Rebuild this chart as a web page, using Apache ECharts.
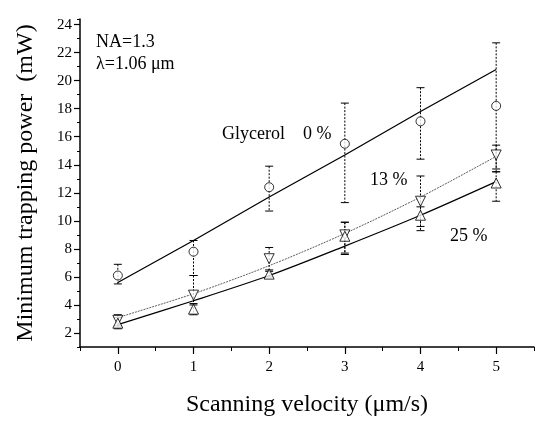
<!DOCTYPE html>
<html>
<head>
<meta charset="utf-8">
<script src="https://cdn.jsdelivr.net/npm/echarts@6/dist/echarts.min.js"></script>
<style>
  html, body { margin: 0; padding: 0; background: #fff; }
  #chart { width: 535px; height: 422px; }
</style>
</head>
<body>
<div id="chart"></div>
<script>
// scanning velocity (µm/s)
const velocity = [0, 1, 2, 3, 4, 5];

// Glycerol 0 %
const g0 = [6.1, 7.8, 12.4, 15.5, 17.1, 18.2];
const g0Low = [5.5, 6.1, 10.7, 11.3, 14.4, 13.7];
const g0High = [6.9, 8.6, 13.9, 18.4, 19.5, 22.7];
const fit0 = [5.6, 8.6, 11.7, 14.7, 17.8, 20.8];

// 13 %
const g13 = [2.9, 4.7, 7.3, 9.0, 11.4, 14.7];
const g13Low = [2.5, 4.0, 6.5, 7.7, 9.6, 13.5];
const g13High = [3.3, 6.1, 8.1, 9.9, 13.2, 15.4];
const fit13 = [3.1, 4.8, 6.8, 9.1, 11.7, 14.6];

// 25 %
const g25 = [2.7, 3.7, 6.2, 8.9, 10.4, 12.7];
const g25Low = [2.3, 3.3, 6.0, 7.6, 9.3, 11.4];
const g25High = [3.1, 4.1, 6.4, 9.9, 11.0, 13.5];
const fit25 = [2.6, 4.3, 6.1, 8.2, 10.4, 12.8];

const yTicks = [2, 4, 6, 8, 10, 12, 14, 16, 18, 20, 22, 24];
const xTicks = [0, 1, 2, 3, 4, 5];

const serif = '"Liberation Serif", "DejaVu Serif", serif';

const pairs = (ys) => velocity.map((v, i) => [v, ys[i]]);
const bars = (lo, hi) => velocity.map((v, i) => [v, lo[i], hi[i]]);

function errorBar(params, api) {
	const x = api.value(0);
	const top = api.coord([x, api.value(2)]);
	const bot = api.coord([x, api.value(1)]);
	const half = 4;
	const style = { stroke: '#000', lineWidth: 1 };
	return {
		type: 'group',
		children: [
			{ type: 'line', shape: { x1: top[0], y1: top[1], x2: bot[0], y2: bot[1] }, style: { stroke: '#000', lineWidth: 1, lineDash: [2, 1.5] } },
			{ type: 'line', shape: { x1: top[0] - half, y1: top[1], x2: top[0] + half, y2: top[1] }, style: style },
			{ type: 'line', shape: { x1: bot[0] - half, y1: bot[1], x2: bot[0] + half, y2: bot[1] }, style: style },
		],
	};
}

const chart = echarts.init(document.getElementById('chart'));

const markerStyle = { color: '#fff', borderColor: '#000', borderWidth: 1 };

chart.setOption({
	animation: false,
	backgroundColor: '#fff',
	grid: { left: 80, right: 1, top: 19, bottom: 75 },
	xAxis: [
		{
			type: 'value',
			min: -0.5,
			max: 5.5,
			name: 'Scanning velocity (\u03bcm/s)',
			nameLocation: 'middle',
			nameGap: 46,
			nameTextStyle: { fontFamily: serif, fontSize: 24, color: '#000' },
			axisLine: { show: true, onZero: false, lineStyle: { color: '#000', width: 1.5 } },
			axisTick: { show: true, customValues: xTicks, length: 7, lineStyle: { color: '#000', width: 1.2 } },
			axisLabel: { customValues: xTicks, fontFamily: serif, fontSize: 15, color: '#000', margin: 13 },
			splitLine: { show: false },
		},
		{
			type: 'value',
			min: -0.5,
			max: 5.5,
			interval: 0.5,
			position: 'bottom',
			axisLine: { show: false, onZero: false },
			axisTick: { show: true, length: 4, lineStyle: { color: '#000', width: 1 } },
			axisLabel: { show: false },
			splitLine: { show: false },
		},
	],
	yAxis: [
		{
			type: 'value',
			min: 1,
			max: 24.4,
			name: 'Minimum trapping power  (mW)',
			nameLocation: 'middle',
			nameRotate: 90,
			nameGap: 42,
			nameTextStyle: { fontFamily: serif, fontSize: 24, color: '#000' },
			axisLine: { show: true, onZero: false, lineStyle: { color: '#000', width: 1.5 } },
			axisTick: { show: true, customValues: yTicks, length: 6, lineStyle: { color: '#000', width: 1.2 } },
			axisLabel: { customValues: yTicks, fontFamily: serif, fontSize: 15, color: '#000', margin: 8 },
			splitLine: { show: false },
		},
		{
			type: 'value',
			min: 1,
			max: 24.4,
			interval: 1,
			position: 'left',
			axisLine: { show: false, onZero: false },
			axisTick: { show: true, length: 3, lineStyle: { color: '#000', width: 1 } },
			axisLabel: { show: false },
			splitLine: { show: false },
		},
	],
	graphic: [
		{ type: 'text', left: 96, top: 33, style: { text: 'NA=1.3', font: '18px ' + serif, fill: '#000' } },
		{ type: 'text', left: 96, top: 55, style: { text: '\u03bb=1.06 \u03bcm', font: '18px ' + serif, fill: '#000' } },
		{ type: 'text', left: 222, top: 125, style: { text: 'Glycerol    0 %', font: '18px ' + serif, fill: '#000' } },
		{ type: 'text', left: 370, top: 171, style: { text: '13 %', font: '18px ' + serif, fill: '#000' } },
		{ type: 'text', left: 450, top: 227, style: { text: '25 %', font: '18px ' + serif, fill: '#000' } },
	],
	series: [
		{ type: 'line', data: pairs(fit0), showSymbol: false, lineStyle: { color: '#000', width: 1.3 }, z: 2 },
		{ type: 'line', data: pairs(fit13), smooth: 0.3, showSymbol: false, lineStyle: { color: '#333', width: 0.8, type: [2, 1] }, z: 2 },
		{ type: 'line', data: pairs(fit25), smooth: 0.3, showSymbol: false, lineStyle: { color: '#000', width: 1.2 }, z: 2 },
		{ type: 'custom', data: bars(g0Low, g0High), renderItem: errorBar, z: 3 },
		{ type: 'custom', data: bars(g13Low, g13High), renderItem: errorBar, z: 3 },
		{ type: 'custom', data: bars(g25Low, g25High), renderItem: errorBar, z: 3 },
		{ type: 'scatter', data: pairs(g0), symbol: 'circle', symbolSize: 9, itemStyle: markerStyle, z: 4 },
		{ type: 'scatter', data: pairs(g13), symbol: 'triangle', symbolRotate: 180, symbolSize: 10, itemStyle: markerStyle, z: 4 },
		{ type: 'scatter', data: pairs(g25), symbol: 'triangle', symbolSize: 10, itemStyle: markerStyle, z: 4 },
	],
});
</script>
</body>
</html>
